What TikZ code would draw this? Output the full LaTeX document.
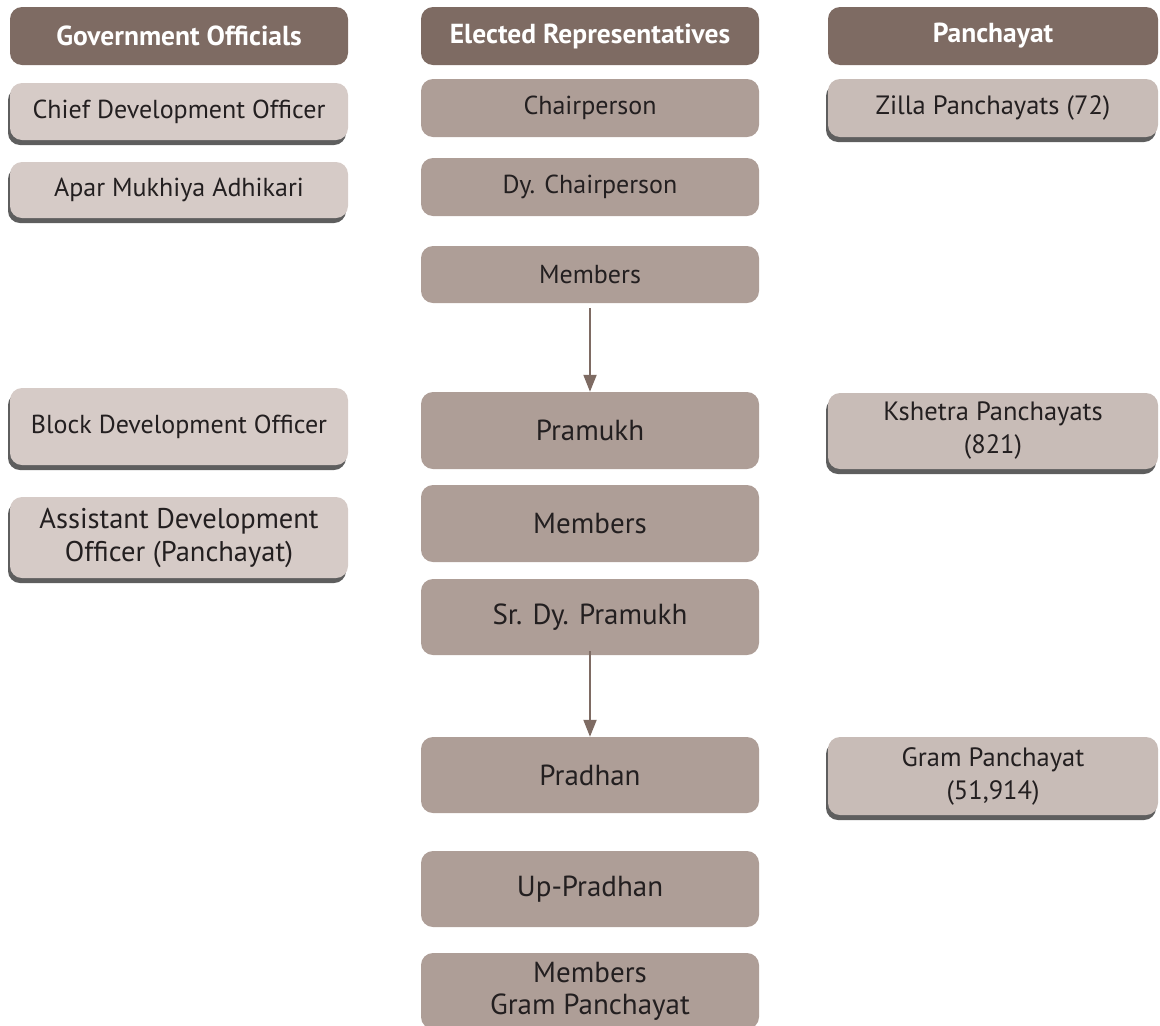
\documentclass[tikz,border=0pt]{standalone}
\usepackage{fontspec}
\setmainfont{PT Sans}
\usetikzlibrary{shadows,arrows.meta}
\definecolor{hdr}{HTML}{7E6B63}
\definecolor{mid}{HTML}{AE9E97}
\definecolor{lft}{HTML}{D6CBC7}
\definecolor{rgt}{HTML}{C8BCB7}
\definecolor{shd}{HTML}{5E5E5E}
\definecolor{txt}{HTML}{231F20}
\tikzset{
  box/.style={rounded corners=12pt, inner sep=0pt, align=center, text=txt, font=\fontsize{26}{32}\selectfont},
  hdrbox/.style={box, fill=hdr, text=white, font=\fontsize{27.5}{32}\selectfont\bfseries, minimum width=338pt, minimum height=58pt},
  midbox/.style={box, fill=mid, minimum width=338pt},
  lftbox/.style={box, fill=lft, minimum width=338pt, drop shadow={shadow xshift=-2pt, shadow yshift=-5pt, fill=shd, opacity=1}},
  rgtbox/.style={box, fill=rgt, minimum width=330pt, font=\fontsize{26.5}{33}\selectfont, drop shadow={shadow xshift=-2pt, shadow yshift=-5pt, fill=shd, opacity=1}},
  big/.style={font=\fontsize{28.5}{33}\selectfont},
  large/.style={font=\fontsize{29}{32}\selectfont},
  flow/.style={draw=hdr, line width=2pt, -{Triangle[length=17pt,width=13pt]}}
}
\begin{document}
\begin{tikzpicture}[x=1pt,y=-1pt]
\useasboundingbox (0,0) rectangle (1160,1026);
\clip (0,0) rectangle (1160,1026);
% headers
\node[hdrbox] (gh) at (179,36) {Government Officials};
\node[hdrbox] (eh) at (590,36) {Elected Representatives};
\node[hdrbox, minimum width=330pt] (ph) at (993,36) {Panchayat};
% left
\node[lftbox, minimum height=57pt] (cdo) at (179,111.5) {Chief Development Officer};
\node[lftbox, minimum height=56pt] (ama) at (179,190) {Apar Mukhiya Adhikari};
\node[lftbox, minimum height=77pt] (bdo) at (179,426.5) {Block Development Officer};
\node[lftbox, big, minimum height=81pt] (ado) at (179,537.5) {Assistant Development\\Officer (Panchayat)};
% middle
\node[midbox, minimum height=58pt] (cp) at (590,108) {Chairperson};
\node[midbox, minimum height=58pt] (dcp) at (590,187) {Dy. Chairperson};
\node[midbox, minimum height=57pt] (m1) at (590,274.5) {Members};
\node[midbox, large, minimum height=77pt] (pr) at (590,430.5) {Pramukh};
\node[midbox, large, minimum height=77pt] (m2) at (590,523.5) {Members};
\node[midbox, large, minimum height=76pt] (sdp) at (590,617) {Sr. Dy. Pramukh};
\node[midbox, large, minimum height=76pt] (pd) at (590,775) {Pradhan};
\node[midbox, large, minimum height=76pt] (upd) at (590,889) {Up-Pradhan};
\node[midbox, large, minimum height=76pt] (mgp) at (590,991) {Members\\Gram Panchayat};
% right
\node[rgtbox, minimum height=58pt] (zp) at (993,108) {Zilla Panchayats (72)};
\node[rgtbox, minimum height=76pt] (kp) at (993,431) {Kshetra Panchayats\\(821)};
\node[rgtbox, minimum height=78pt] (gp) at (993,776) {Gram Panchayat\\(51,914)};
% arrows
\draw[flow] ([yshift=-5pt]m1.south) -- (pr.north);
\draw[flow] ([yshift=4pt]sdp.south) -- (pd.north);
\end{tikzpicture}
\end{document}
